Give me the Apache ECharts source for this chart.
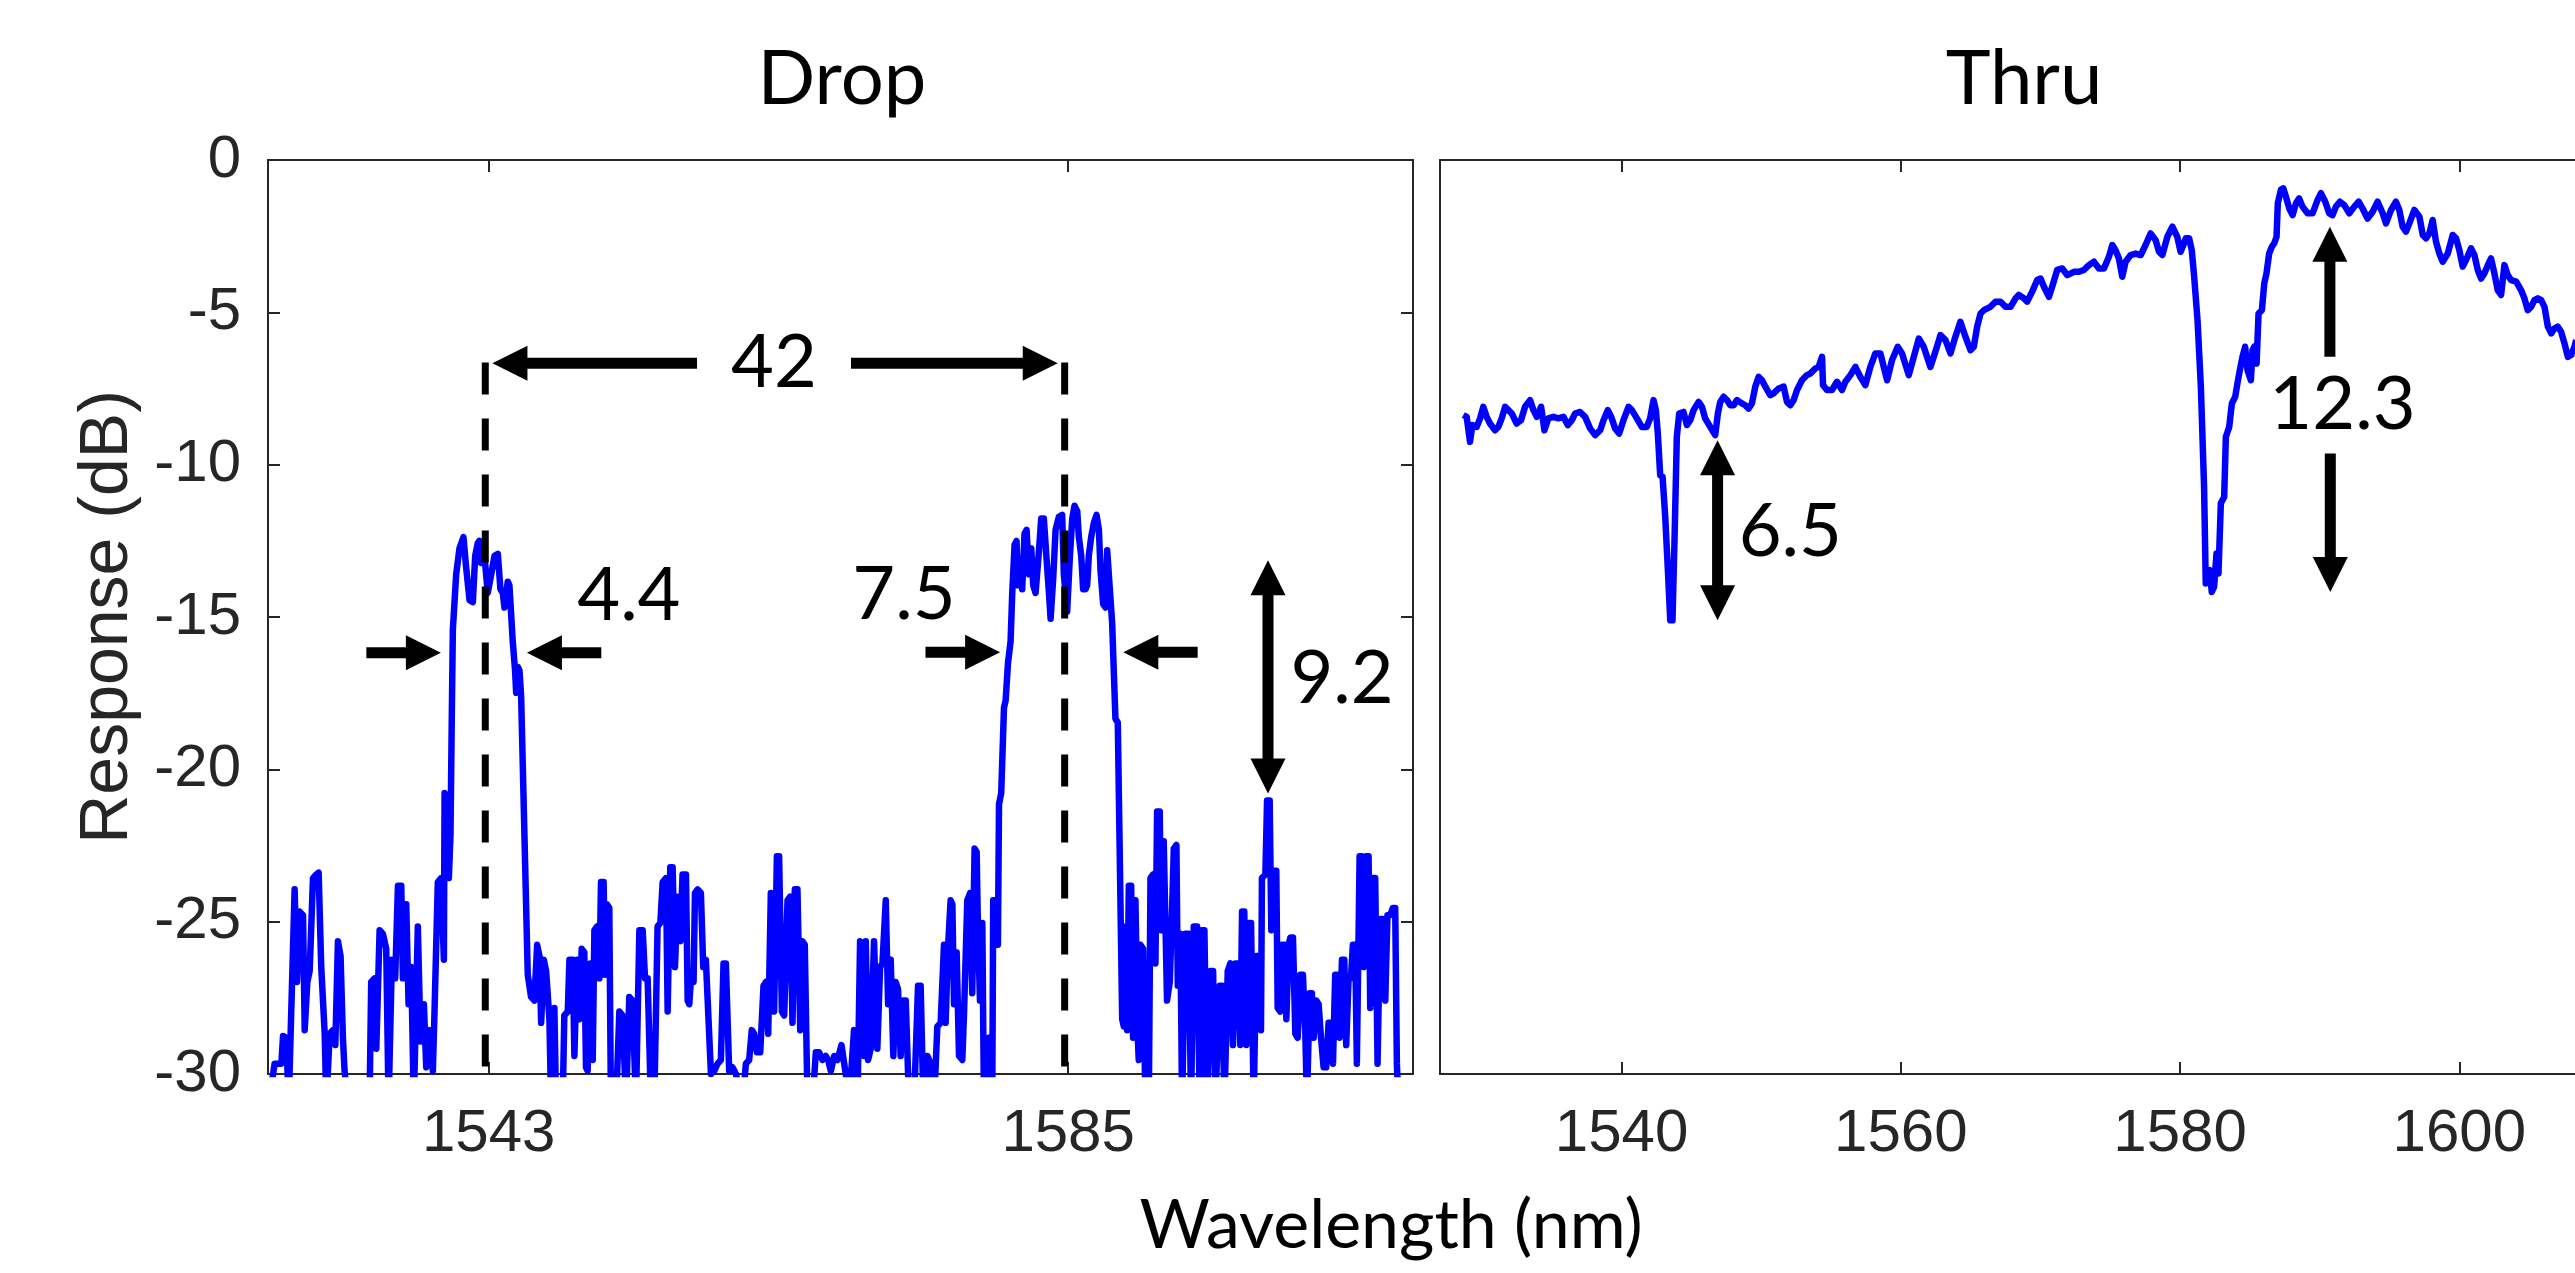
<!DOCTYPE html>
<html><head><meta charset="utf-8">
<script src="https://cdn.jsdelivr.net/npm/echarts@6/dist/echarts.min.js"></script>
<style>html,body{margin:0;padding:0;background:#fff}#c{width:2575px;height:1273px}</style>
</head><body><div id="c"></div>
<script>
// ---------- data ----------
const dropRange = [1527, 1610];
const thruRange = [1527, 1609];
const responseRange = [-30, 0];
const responseStep = 5;
const dropTickValues = [1543, 1585];
const thruTickValues = [1540, 1560, 1580, 1600];

const dropPoints = [
[1527.05,-31],[1527.48,-29.66],[1527.97,-29.66],[1528.09,-28.75],[1528.33,-28.81],[1528.5,-31],[1528.93,-23.94],[1529.1,-26.98],[1529.29,-24.67],[1529.54,-24.79],[1529.66,-28.56],[1529.85,-26.98],[1530.02,-26.62],[1530.26,-23.57],[1530.5,-23.45],[1530.67,-23.39],[1530.86,-26.49],[1531.11,-28.68],[1531.23,-31],[1531.47,-28.68],[1531.71,-28.56],[1531.88,-29.05],[1532.07,-25.64],[1532.26,-26.13],[1532.43,-28.81],[1532.55,-29.9],[1532.8,-31],[1534.36,-31],[1534.48,-26.98],[1534.73,-26.86],[1534.85,-29.17],[1535.09,-25.28],[1535.33,-25.4],[1535.57,-25.89],[1535.74,-31],[1535.98,-26.25],[1536.22,-26.86],[1536.42,-23.82],[1536.66,-23.82],[1536.78,-26.86],[1537.02,-24.43],[1537.19,-27.71],[1537.38,-26.49],[1537.57,-31],[1537.86,-25.16],[1538.06,-28.93],[1538.3,-27.71],[1538.47,-29.78],[1538.71,-28.56],[1538.95,-29.9],[1539.07,-27.95],[1539.31,-23.7],[1539.55,-23.57],[1539.75,-26.25],[1539.8,-20.78],[1539.99,-20.9],[1540.11,-23.57],[1540.23,-22.11],[1540.33,-17.98],[1540.4,-15.42],[1540.64,-13.6],[1540.88,-12.75],[1541.17,-12.38],[1541.36,-13.36],[1541.61,-14.45],[1541.85,-14.51],[1542.02,-12.99],[1542.21,-12.57],[1542.33,-12.5],[1542.45,-13.23],[1542.69,-12.99],[1542.93,-14.21],[1543.18,-13.6],[1543.42,-12.99],[1543.66,-12.93],[1543.85,-14.09],[1544.02,-14.21],[1544.14,-14.69],[1544.38,-13.84],[1544.5,-13.96],[1544.74,-15.79],[1544.91,-16.76],[1544.99,-17.49],[1545.11,-16.64],[1545.23,-16.76],[1545.35,-17.61],[1545.83,-26.74],[1546.07,-27.47],[1546.31,-27.59],[1546.51,-25.76],[1546.68,-26.13],[1546.8,-28.32],[1546.99,-26.25],[1547.16,-26.62],[1547.4,-28.2],[1547.52,-31],
[1547.76,-27.83],[1547.88,-31],[1548.36,-31],[1548.48,-28.08],[1548.73,-27.95],[1548.85,-26.25],[1549.09,-26.25],[1549.21,-29.41],[1549.4,-26.25],[1549.57,-28.2],[1549.74,-25.89],[1549.93,-26.01],[1550.05,-29.78],[1550.17,-29.9],[1550.37,-26.37],[1550.54,-29.54],[1550.66,-25.28],[1550.85,-25.16],[1551.02,-26.86],[1551.14,-23.7],[1551.33,-23.7],[1551.43,-26.74],[1551.57,-24.43],[1551.74,-24.55],[1551.86,-31],[1552.23,-31],[1552.47,-27.95],[1552.71,-28.08],[1552.95,-31],[1553.19,-27.47],[1553.43,-27.59],[1553.67,-31],[1553.92,-25.28],[1554.16,-25.28],[1554.33,-26.86],[1554.52,-26.86],[1554.76,-31],[1555.0,-31],[1555.24,-25.16],[1555.44,-25.04],[1555.61,-23.7],[1555.85,-23.57],[1555.97,-27.95],[1556.16,-23.21],[1556.33,-23.21],[1556.5,-26.49],[1556.69,-24.18],[1556.89,-25.64],[1557.05,-23.45],[1557.3,-23.45],[1557.42,-27.59],[1557.54,-27.71],[1557.66,-26.86],[1557.85,-26.98],[1557.95,-24.06],[1558.14,-23.94],[1558.38,-24.06],[1558.55,-26.49],[1558.74,-26.25],[1558.86,-26.25],[1559.11,-30.0],[1559.35,-29.9],[1559.59,-29.66],[1559.83,-29.54],[1560.02,-26.37],[1560.19,-26.37],[1560.43,-29.9],[1560.67,-29.78],[1560.92,-30.0],[1561.4,-31],[1561.64,-29.66],[1561.88,-29.54],[1562.07,-28.56],[1562.24,-28.68],[1562.44,-29.29],[1562.68,-29.29],[1562.92,-27.1],[1563.09,-26.98],[1563.26,-28.68],[1563.45,-24.06],[1563.57,-24.06],[1563.69,-27.95],[1563.89,-22.85],[1564.05,-22.85],[1564.25,-27.95],[1564.42,-28.08],[1564.66,-24.3],[1564.85,-24.18],[1565.02,-28.32],[1565.19,-23.94],[1565.38,-23.94],[1565.58,-28.56],[1565.74,-25.64],[1565.91,-25.76],[1566.11,-31],[1566.47,-31],[1566.71,-29.29],[1566.95,-29.29],[1567.19,-29.54],[1567.43,-29.41],[1567.6,-29.54],[1567.8,-29.9],[1568.04,-29.41],[1568.28,-29.54],[1568.57,-29.05],[1568.71,-29.05],[1568.88,-30.0],[1569.12,-31],
[1569.24,-31],[1569.48,-28.56],[1569.73,-31],[1569.92,-25.64],[1570.09,-25.76],[1570.21,-29.41],[1570.33,-25.64],[1570.5,-29.54],[1570.69,-29.17],[1570.93,-25.64],[1571.17,-29.17],[1571.37,-26.49],[1571.54,-26.37],[1571.78,-24.3],[1571.95,-27.71],[1572.14,-26.25],[1572.33,-29.41],[1572.5,-26.98],[1572.67,-27.22],[1572.86,-29.41],[1573.06,-27.59],[1573.23,-27.59],[1573.47,-31],[1573.83,-31],[1574.12,-27.1],[1574.31,-27.1],[1574.51,-31],[1574.8,-29.41],[1575.04,-29.66],[1575.28,-31],[1575.52,-28.44],[1575.76,-28.32],[1576.0,-25.76],[1576.12,-28.32],[1576.29,-25.89],[1576.48,-24.3],[1576.61,-24.43],[1576.73,-27.71],[1576.92,-26.01],[1577.09,-29.41],[1577.33,-29.54],[1577.45,-28.08],[1577.69,-24.3],[1577.89,-24.06],[1578.05,-27.35],[1578.22,-22.6],[1578.37,-22.72],[1578.46,-25.16],[1578.61,-27.59],[1578.78,-25.04],[1578.9,-31],[1579.26,-28.81],[1579.5,-31],[1579.57,-24.3],[1579.74,-24.3],[1579.91,-25.76],[1579.99,-21.14],[1580.15,-20.78],[1580.35,-17.98],[1580.47,-17.74],[1580.64,-16.52],[1580.83,-15.79],[1580.95,-14.21],[1581.12,-12.63],[1581.26,-12.5],[1581.36,-13.96],[1581.51,-13.11],[1581.67,-14.09],[1581.84,-12.26],[1581.99,-12.14],[1582.16,-13.6],[1582.33,-12.75],[1582.47,-13.96],[1582.64,-14.21],[1582.88,-12.87],[1583.05,-11.77],[1583.24,-11.77],[1583.44,-13.11],[1583.61,-14.21],[1583.73,-15.06],[1583.92,-13.72],[1584.09,-12.14],[1584.33,-11.71],[1584.57,-11.65],[1584.69,-13.6],[1584.93,-14.82],[1585.13,-12.99],[1585.3,-11.77],[1585.46,-11.35],[1585.66,-11.53],[1585.78,-12.38],[1585.95,-12.99],[1586.09,-14.09],[1586.26,-14.09],[1586.38,-13.96],[1586.5,-12.99],[1586.67,-12.38],[1586.87,-11.9],[1587.06,-11.65],[1587.23,-12.14],[1587.35,-13.48],[1587.54,-14.57],[1587.71,-14.69],[1587.83,-12.81],[1587.95,-12.87],[1588.19,-15.18],[1588.43,-18.34],[1588.6,-18.46],[1588.92,-28.2],[1589.04,-28.44],[1589.16,-25.16],[1589.28,-28.56],[1589.4,-23.82],[1589.57,-23.82],[1589.71,-28.81],[1589.88,-24.3],[1590.05,-28.81],
[1590.12,-29.54],[1590.24,-25.76],[1590.44,-25.89],[1590.6,-31],[1590.85,-31],[1590.97,-23.57],[1591.16,-23.45],[1591.33,-26.37],[1591.45,-21.38],[1591.64,-21.38],[1591.74,-25.28],[1591.93,-22.36],[1592.05,-22.36],[1592.17,-27.59],[1592.37,-26.98],[1592.54,-24.55],[1592.66,-22.6],[1592.85,-22.48],[1592.95,-27.1],[1593.14,-25.4],[1593.26,-31],[1593.5,-25.4],[1593.74,-25.4],[1593.91,-31],[1594.11,-25.16],[1594.35,-25.16],[1594.54,-31],[1594.71,-25.28],[1594.88,-25.28],[1595.07,-31],[1595.31,-26.62],[1595.51,-26.62],[1595.67,-31],[1595.99,-27.1],[1596.16,-27.1],[1596.33,-31],[1596.57,-26.62],[1596.76,-26.37],[1596.95,-29.05],[1597.12,-26.37],[1597.36,-26.37],[1597.48,-29.05],[1597.61,-24.67],[1597.77,-24.67],[1597.92,-29.05],[1598.09,-25.04],[1598.26,-25.04],[1598.45,-31],[1598.64,-26.13],[1598.81,-26.13],[1598.98,-28.56],[1599.05,-23.57],[1599.3,-23.45],[1599.42,-21.02],[1599.61,-21.02],[1599.73,-25.28],[1599.9,-23.33],[1600.09,-23.33],[1600.19,-27.83],[1600.38,-27.95],[1600.5,-25.76],[1600.67,-25.76],[1600.82,-28.2],[1600.99,-25.76],[1601.11,-25.52],[1601.3,-25.52],[1601.47,-28.68],[1601.64,-28.81],[1601.83,-26.74],[1602.02,-26.74],[1602.19,-28.56],[1602.31,-31],[1602.51,-27.35],[1602.67,-27.35],[1602.8,-28.81],[1602.99,-27.59],[1603.16,-27.71],[1603.33,-28.81],[1603.52,-29.78],[1603.71,-29.78],[1603.88,-28.32],[1604.05,-28.32],[1604.2,-29.66],[1604.36,-26.74],[1604.53,-26.74],[1604.68,-28.81],[1604.85,-26.25],[1605.02,-26.25],[1605.16,-29.05],[1605.33,-26.86],[1605.5,-26.86],[1605.64,-25.76],[1605.81,-25.76],[1605.93,-29.66],[1606.13,-22.85],[1606.3,-22.85],[1606.42,-26.49],[1606.61,-22.85],[1606.78,-22.85],[1606.9,-27.83],[1607.09,-23.57],[1607.26,-23.57],[1607.43,-29.66],[1607.62,-24.91],[1607.82,-24.91],[1607.99,-27.59],[1608.15,-24.79],[1608.35,-24.79],[1608.54,-24.55],[1608.71,-24.55],[1608.83,-29.66],[1608.95,-31]
];

const thruPoints = [
[1528.67,-8.37],[1528.91,-8.43],[1529.15,-9.25],[1529.32,-8.7],[1529.63,-8.76],[1529.87,-8.48],[1530.1,-8.1],[1530.34,-8.43],[1530.58,-8.65],[1530.94,-8.87],[1531.18,-8.76],[1531.42,-8.48],[1531.66,-8.1],[1531.9,-8.21],[1532.14,-8.32],[1532.49,-8.65],[1532.8,-8.54],[1533.09,-8.1],[1533.45,-7.88],[1533.69,-8.21],[1533.93,-8.43],[1534.24,-8.1],[1534.48,-8.87],[1534.76,-8.48],[1535.12,-8.43],[1535.48,-8.48],[1535.84,-8.43],[1536.15,-8.7],[1536.44,-8.54],[1536.68,-8.32],[1537.03,-8.27],[1537.39,-8.43],[1537.75,-8.81],[1538.11,-9.03],[1538.47,-8.87],[1538.71,-8.54],[1539.02,-8.21],[1539.26,-8.43],[1539.54,-8.81],[1539.83,-8.98],[1540.14,-8.54],[1540.5,-8.1],[1540.74,-8.21],[1541.1,-8.48],[1541.45,-8.76],[1541.81,-8.76],[1542.05,-8.48],[1542.29,-7.88],[1542.46,-8.21],[1542.6,-8.98],[1542.77,-10.35],[1542.94,-10.4],[1543.13,-11.71],[1543.32,-13.46],[1543.49,-15.11],[1543.65,-15.11],[1543.8,-12.37],[1543.96,-9.09],[1544.13,-8.32],[1544.44,-8.27],[1544.68,-8.7],[1544.92,-8.54],[1545.16,-8.21],[1545.52,-7.94],[1545.76,-8.1],[1545.99,-8.48],[1546.35,-8.76],[1546.71,-9.03],[1546.9,-8.32],[1547.07,-7.94],[1547.31,-7.77],[1547.55,-7.88],[1547.79,-8.05],[1548.03,-8.05],[1548.27,-7.88],[1548.62,-7.99],[1548.86,-8.05],[1549.1,-8.16],[1549.34,-7.99],[1549.58,-7.44],[1549.82,-7.12],[1550.06,-7.23],[1550.3,-7.44],[1550.65,-7.72],[1550.89,-7.66],[1551.25,-7.5],[1551.61,-7.44],[1551.85,-7.94],[1552.09,-8.05],[1552.33,-7.88],[1552.57,-7.55],[1552.92,-7.23],[1553.28,-7.06],[1553.52,-7.01],
[1553.88,-6.84],[1554.12,-6.79],[1554.36,-6.46],[1554.43,-7.39],[1554.71,-7.55],[1555.07,-7.55],[1555.43,-7.28],[1555.79,-7.55],[1556.03,-7.28],[1556.39,-7.06],[1556.75,-6.79],[1557.1,-7.12],[1557.46,-7.39],[1557.82,-6.79],[1558.18,-6.35],[1558.54,-6.35],[1558.78,-6.79],[1559.02,-7.23],[1559.37,-6.57],[1559.78,-6.13],[1560.09,-6.35],[1560.57,-7.06],[1560.93,-6.46],[1561.29,-5.86],[1561.64,-6.13],[1562.12,-6.79],[1562.48,-6.29],[1562.84,-5.75],[1563.2,-5.91],[1563.56,-6.35],[1563.91,-5.8],[1564.27,-5.31],[1564.63,-5.8],[1564.99,-6.24],[1565.23,-6.13],[1565.47,-5.47],[1565.71,-5.04],[1565.95,-4.93],[1566.42,-4.82],[1566.78,-4.65],[1567.14,-4.65],[1567.5,-4.82],[1567.86,-4.82],[1568.22,-4.54],[1568.45,-4.43],[1568.81,-4.54],[1569.05,-4.65],[1569.41,-4.32],[1569.77,-3.94],[1570.01,-3.89],[1570.25,-4.16],[1570.61,-4.49],[1570.84,-4.16],[1571.2,-3.61],[1571.56,-3.56],[1571.92,-3.78],[1572.4,-3.67],[1572.76,-3.67],[1573.11,-3.61],[1573.47,-3.45],[1573.83,-3.34],[1574.19,-3.56],[1574.55,-3.56],[1574.91,-3.17],[1575.15,-2.79],[1575.38,-2.96],[1575.62,-3.23],[1575.86,-3.83],[1576.1,-3.34],[1576.46,-3.12],[1576.82,-3.07],[1577.18,-3.12],[1577.53,-2.79],[1577.89,-2.41],[1578.25,-2.63],[1578.49,-3.01],[1578.73,-3.12],[1579.09,-2.52],[1579.45,-2.19],[1579.8,-2.52],[1580.04,-3.01],[1580.28,-2.74],
[1580.41,-2.57],[1580.65,-2.57],[1580.84,-2.96],[1581.01,-3.83],[1581.25,-5.25],[1581.49,-7.44],[1581.72,-10.73],[1581.84,-13.9],[1581.96,-13.9],[1582.13,-13.46],[1582.27,-14.18],[1582.44,-14.01],[1582.61,-12.92],[1582.75,-13.57],[1582.92,-11.27],[1583.16,-11.06],[1583.28,-9.09],[1583.52,-8.76],[1583.71,-7.99],[1583.95,-7.77],[1584.11,-7.33],[1584.28,-6.9],[1584.47,-6.46],[1584.66,-6.13],[1584.83,-6.9],[1585.07,-7.23],[1585.19,-6.24],[1585.31,-6.13],[1585.48,-6.68],[1585.62,-5.04],[1585.86,-4.93],[1586.03,-4.05],[1586.19,-3.72],[1586.38,-3.07],[1586.57,-2.85],[1586.74,-2.74],[1586.91,-2.52],[1587.0,-1.42],[1587.22,-0.98],[1587.39,-0.93],[1587.58,-1.2],[1587.82,-1.59],[1588.06,-1.81],[1588.3,-1.42],[1588.53,-1.26],[1588.77,-1.53],[1589.13,-1.75],[1589.49,-1.75],[1589.85,-1.31],[1590.09,-1.09],[1590.4,-1.37],[1590.68,-1.75],[1590.92,-1.81],[1591.16,-1.53],[1591.45,-1.37],[1591.76,-1.48],[1592.12,-1.75],[1592.48,-1.53],[1592.79,-1.37],[1593.07,-1.59],[1593.43,-1.92],[1593.79,-1.7],[1594.15,-1.37],[1594.51,-1.75],[1594.75,-2.08],[1595.11,-1.64],[1595.46,-1.37],[1595.7,-1.64],[1595.94,-2.19],[1596.18,-2.35],[1596.42,-2.08],[1596.78,-1.64],[1597.14,-1.86],[1597.38,-2.46],[1597.61,-2.57],[1597.85,-2.41],[1598.09,-1.97],[1598.33,-2.68],[1598.57,-3.07],[1598.81,-3.34],[1599.17,-3.07],[1599.53,-2.46],[1599.77,-2.57],[1600.0,-2.96],[1600.24,-3.5],[1600.48,-3.28],[1600.84,-2.9],[1601.08,-3.12],[1601.32,-3.61],[1601.56,-3.89],[1601.8,-3.72],[1602.04,-3.45],[1602.27,-3.23],[1602.51,-3.72],[1602.75,-4.27],[1602.99,-4.43],[1603.23,-3.45],[1603.47,-3.78],[1603.71,-3.94],[1604.07,-3.99],[1604.42,-4.27],[1604.66,-4.54],[1604.9,-4.93],[1605.14,-4.82],[1605.38,-4.6],[1605.62,-4.54],[1605.86,-4.6],[1606.1,-4.82],[1606.34,-5.47],[1606.58,-5.69],[1606.81,-5.53],[1607.05,-5.47],[1607.29,-5.64],[1607.53,-6.02],[1607.77,-6.46],[1608.01,-6.4],[1608.25,-6.13],[1608.37,-5.91]
];

// annotations (data units): [x1, y1, x2, y2, headsAtBothEnds]
const dropDashedLines = [[1542.75, -6.65, 1542.75, -30], [1584.75, -6.65, 1584.75, -30]];
const dropArrows = [
  [1558.1, -6.67, 1543.27, -6.67, 0],
  [1569.26, -6.67, 1584.25, -6.67, 0],
  [1534.13, -16.17, 1539.53, -16.17, 0],
  [1551.16, -16.17, 1545.77, -16.17, 0],
  [1574.66, -16.16, 1580.07, -16.16, 0],
  [1594.39, -16.16, 1589.0, -16.16, 0],
  [1599.49, -13.14, 1599.49, -20.79, 1]
];
const thruArrows = [
  [1546.88, -9.2, 1546.88, -15.11, 1],
  [1590.73, -6.46, 1590.73, -2.19, 0],
  [1590.76, -9.63, 1590.76, -14.18, 0]
];
const dropLabelPos = [[1563.68, -6.67], [1553.16, -14.3], [1573.1, -14.29], [1604.86, -17.04]];
const dropLabelText = ['42', '4.4', '7.5', '9.2'];
const thruLabelPos = [[1552.09, -12.22], [1591.63, -8.05]];
const thruLabelText = ['6.5', '12.3'];

// ---------- chart ----------
const AX = '#262626';
const tickFont = {fontFamily: '"Liberation Sans", Arial, sans-serif', fontSize: 60, color: AX};
const annFont = '74px Lato, "Open Sans", sans-serif';
const titleFont = '76px Lato, "Open Sans", sans-serif';

function renderArrow(params, api) {
  const p1 = api.coord([api.value(0), api.value(1)]);
  const p2 = api.coord([api.value(2), api.value(3)]);
  const both = api.value(4) === 1;
  const dx = p2[0] - p1[0], dy = p2[1] - p1[1];
  const len = Math.hypot(dx, dy);
  const ux = dx / len, uy = dy / len, nx = -uy, ny = ux;
  const HL = 35, HW = 17.5, SW = 11;
  const children = [];
  let s = p1, e = [p2[0] - ux * HL, p2[1] - uy * HL];
  children.push({type: 'polygon', shape: {points: [p2, [e[0] + nx * HW, e[1] + ny * HW], [e[0] - nx * HW, e[1] - ny * HW]]}, style: {fill: '#000'}});
  if (both) {
    s = [p1[0] + ux * HL, p1[1] + uy * HL];
    children.push({type: 'polygon', shape: {points: [p1, [s[0] + nx * HW, s[1] + ny * HW], [s[0] - nx * HW, s[1] - ny * HW]]}, style: {fill: '#000'}});
  }
  children.push({type: 'line', shape: {x1: s[0] - (both ? ux : 0), y1: s[1] - (both ? uy : 0), x2: e[0] + ux, y2: e[1] + uy}, style: {stroke: '#000', lineWidth: SW, lineCap: 'butt'}});
  return {type: 'group', children};
}
function renderDashed(params, api) {
  const p1 = api.coord([api.value(0), api.value(1)]);
  const p2 = api.coord([api.value(2), api.value(3)]);
  return {type: 'line', shape: {x1: p1[0], y1: p1[1], x2: p2[0], y2: p2[1]}, style: {stroke: '#000', lineWidth: 7, lineDash: [32, 24]}};
}
function makeLabelRenderer(texts) {
  return function (params, api) {
    const p = api.coord([api.value(0), api.value(1)]);
    return {type: 'text', x: p[0], y: p[1], style: {text: texts[params.dataIndex], font: annFont, fill: '#000', align: 'center', verticalAlign: 'middle'}};
  };
}

const gridBase = {top: 160, height: 914, width: 1145, containLabel: false, outerBoundsMode: 'none', show: false};
function xAx(grid, pos, range, ticks, showLabel) {
  return {
    type: 'value', gridIndex: grid, position: pos, min: range[0], max: range[1],
    axisLine: {show: true, onZero: false, lineStyle: {color: AX, width: 2}},
    axisTick: {show: true, inside: true, length: 12, customValues: ticks, lineStyle: {color: AX, width: 2}},
    axisLabel: {show: showLabel, customValues: ticks, margin: 30, lineHeight: 60, formatter: v => String(v), ...tickFont},
    splitLine: {show: false}
  };
}
function yAx(grid, pos, showLabel, showTick) {
  return {
    type: 'value', gridIndex: grid, position: pos, min: responseRange[0], max: responseRange[1], interval: responseStep,
    axisLine: {show: true, onZero: false, lineStyle: {color: AX, width: 2}},
    axisTick: {show: showTick, inside: true, length: 12, lineStyle: {color: AX, width: 2}},
    axisLabel: {show: showLabel, margin: 27, formatter: v => String(v), ...tickFont},
    splitLine: {show: false}
  };
}

const option = {
  animation: false,
  backgroundColor: '#fff',
  grid: [
    Object.assign({left: 268}, gridBase),
    Object.assign({left: 1440}, gridBase)
  ],
  xAxis: [
    xAx(0, 'bottom', dropRange, dropTickValues, true),
    xAx(0, 'top', dropRange, dropTickValues, false),
    xAx(1, 'bottom', thruRange, thruTickValues, true),
    xAx(1, 'top', thruRange, thruTickValues, false)
  ],
  yAxis: [
    yAx(0, 'left', true, true),
    yAx(0, 'right', false, true),
    yAx(1, 'left', false, false),
    yAx(1, 'right', false, false)
  ],
  series: [
    {type: 'line', xAxisIndex: 0, yAxisIndex: 0, data: dropPoints, showSymbol: false, clip: true,
     lineStyle: {color: '#0000ff', width: 6.5, join: 'round'}, z: 2},
    {type: 'line', xAxisIndex: 2, yAxisIndex: 2, data: thruPoints, showSymbol: false, clip: true,
     lineStyle: {color: '#0000ff', width: 6.5, join: 'round'}, z: 2},
    {type: 'custom', xAxisIndex: 0, yAxisIndex: 0, data: dropDashedLines, renderItem: renderDashed, encode: {x: [0, 2], y: [1, 3]}, z: 3},
    {type: 'custom', xAxisIndex: 0, yAxisIndex: 0, data: dropArrows, renderItem: renderArrow, encode: {x: [0, 2], y: [1, 3]}, z: 4},
    {type: 'custom', xAxisIndex: 2, yAxisIndex: 2, data: thruArrows, renderItem: renderArrow, encode: {x: [0, 2], y: [1, 3]}, z: 4},
    {type: 'custom', xAxisIndex: 0, yAxisIndex: 0, data: dropLabelPos, renderItem: makeLabelRenderer(dropLabelText), encode: {x: 0, y: 1}, z: 5},
    {type: 'custom', xAxisIndex: 2, yAxisIndex: 2, data: thruLabelPos, renderItem: makeLabelRenderer(thruLabelText), encode: {x: 0, y: 1}, z: 5}
  ],
  graphic: [
    {type: 'text', x: 842, y: 79, style: {text: 'Drop', font: titleFont, fill: '#000', align: 'center', verticalAlign: 'middle'}},
    {type: 'text', x: 2024, y: 79, style: {text: 'Thru', font: titleFont, fill: '#000', align: 'center', verticalAlign: 'middle'}},
    {type: 'text', x: 1391, y: 1226, style: {text: 'Wavelength (nm)', font: '68px Lato, "Open Sans", sans-serif', fill: '#000', align: 'center', verticalAlign: 'middle'}},
    {type: 'text', x: 108, y: 617, rotation: Math.PI / 2, style: {text: 'Response (dB)', font: '68px "Liberation Sans", Arial, sans-serif', fill: AX, align: 'center', verticalAlign: 'middle'}}
  ]
};

const chart = echarts.init(document.getElementById('c'), null, {renderer: 'canvas', width: 2575, height: 1273});
chart.setOption(option);
</script>
</body></html>
